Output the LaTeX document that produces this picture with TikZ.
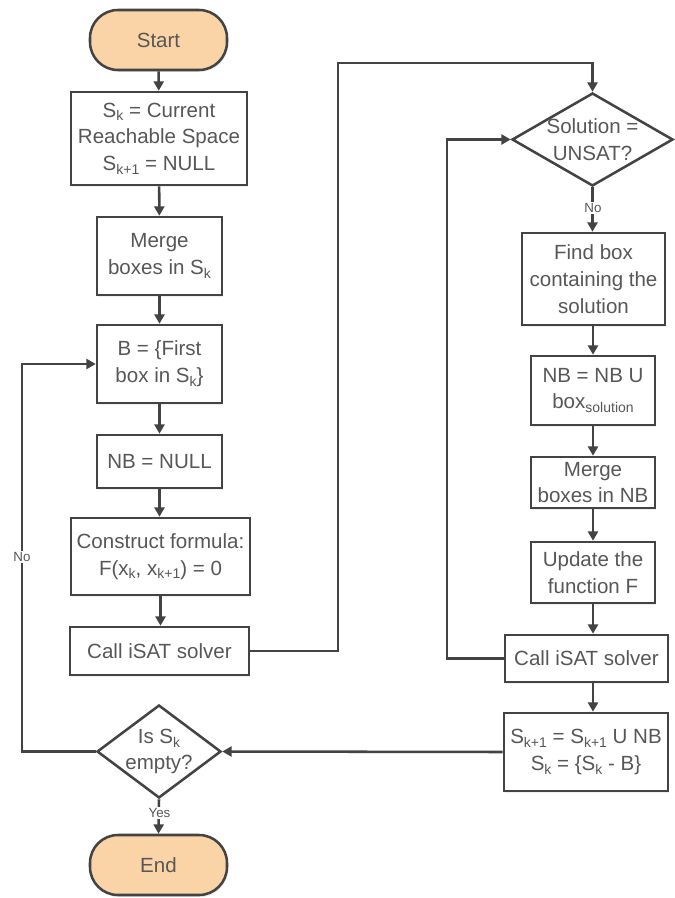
\documentclass[tikz,border=0pt]{standalone}
\usepackage{fontspec}
\setmainfont{Liberation Sans}
\usetikzlibrary{shapes.geometric,arrows.meta,shadows}
\definecolor{linec}{HTML}{434343}
\definecolor{txt}{HTML}{575757}
\definecolor{peach}{HTML}{FAD4A6}
\newcommand\upx{0.75pt}
\newcommand\mainsz{\fontsize{15.4pt}{20pt}\selectfont}
\newcommand\smallsz{\fontsize{10pt}{12pt}\selectfont}
% subscript set a little lower than the default
\newcommand\sbs[1]{\raisebox{-0.35ex}{\fontsize{10.5pt}{12pt}\selectfont #1}}
\tikzset{
  proc/.style={draw=linec, line width=1.9pt, fill=white, text=txt, align=center,
    inner sep=0pt, font=\mainsz,
    drop shadow={opacity=0.12, shadow xshift=1pt, shadow yshift=-1.5pt}},
  term/.style={proc, fill=peach, rounded corners=28*\upx},
  dec/.style={draw=linec, line width=1.9pt, fill=white, diamond, inner sep=0pt},
  dectext/.style={text=txt, align=center, font=\mainsz, inner sep=0pt},
  conn/.style={draw=linec, line width=1.9pt, -{Triangle[length=7pt,width=7.5pt]}},
  lab/.style={fill=white, text=txt, font=\smallsz, inner sep=1pt}
}
\begin{document}
\begin{tikzpicture}[x=0.75pt,y=-0.75pt]
\useasboundingbox[fill=white] (0,0) rectangle (674,898);

% left column
\node[term, minimum width=137*\upx, minimum height=60*\upx] (start) at (158.5,40) {Start};
\node[proc, minimum width=176*\upx, minimum height=93*\upx] (init) at (159,138.5)
  {S\sbs{k} = Current\\Reachable Space\\S\sbs{k+1} = NULL};
\node[proc, minimum width=125*\upx, minimum height=78*\upx] (merge) at (159.5,256)
  {Merge\\boxes in S\sbs{k}};
\node[proc, minimum width=125*\upx, minimum height=78*\upx] (first) at (159.5,364)
  {B = \{First\\box in S\sbs{k}\}};
\node[proc, minimum width=125*\upx, minimum height=53*\upx] (nbnull) at (159.5,461.5)
  {NB = NULL};
\node[proc, minimum width=179*\upx, minimum height=77*\upx] (constr) at (160.5,556.5)
  {Construct formula:\\F(x\sbs{k}, x\sbs{k+1}) = 0};
\node[proc, minimum width=179*\upx, minimum height=48*\upx] (calll) at (159.5,651)
  {Call iSAT solver};
\node[dec, minimum width=124*\upx, minimum height=93*\upx] (empty) at (159,751.5) {};
\node[dectext] (emptytxt) at (159,751.5) {Is S\sbs{k}\\empty?};
\node[term, minimum width=137*\upx, minimum height=60*\upx] (finish) at (158.5,865) {End};

% right column
\node[dec, minimum width=161*\upx, minimum height=93*\upx] (unsat) at (592.5,139.5) {};
\node[dectext] (unsattxt) at (592.5,139.5) {Solution =\\UNSAT?};
\node[proc, minimum width=143*\upx, minimum height=92*\upx] (find) at (593.5,279)
  {Find box\\containing the\\solution};
\node[proc, minimum width=124*\upx, minimum height=69*\upx] (nbu) at (593,390.5)
  {NB = NB U\\box\sbs{solution}};
\node[proc, minimum width=124*\upx, minimum height=51*\upx] (mergenb) at (593,482.5)
  {Merge\\boxes in NB};
\node[proc, minimum width=124*\upx, minimum height=61*\upx] (update) at (593,572.5)
  {Update the\\function F};
\node[proc, minimum width=163*\upx, minimum height=47*\upx] (callr) at (586.5,658.5)
  {Call iSAT solver};
\node[proc, minimum width=164*\upx, minimum height=78*\upx] (supd) at (586,752)
  {S\sbs{k+1} = S\sbs{k+1} U NB\\S\sbs{k} = \{S\sbs{k} - B\}};

% turning points of the loops
\coordinate (topturn) at (338,63);
\coordinate (backturn) at (447,139.5);
\coordinate (noturn) at (22,364);

% connectors, left column
\draw[conn] (start) -- (init);
\draw[conn] (init) -- (merge);
\draw[conn] (merge) -- (first);
\draw[conn] (first) -- (nbnull);
\draw[conn] (nbnull.south) -- (nbnull.south |- constr.north);
\draw[conn] (constr.south) -- (constr.south |- calll.north);
\draw[conn] (calll.east) -| (topturn) -| (unsat.north);
\draw[conn] (empty.west) -| (noturn) -- (first.west);
\node[lab] (nolab) at (22,557) {No};
\draw[conn] (empty.south) -- (finish.north);
\node[lab] (yeslab) at (159.5,813) {Yes};

% connectors, right column
\draw[conn] (unsat.south) -- (unsat.south |- find.north);
\node[lab] (nolab2) at (593,208) {No};
\draw[conn] (find.south -| nbu.north) -- (nbu.north);
\draw[conn] (nbu) -- (mergenb);
\draw[conn] (mergenb) -- (update);
\draw[conn] (update.south) -- (update.south |- callr.north);
\draw[conn] (callr.south -| update.south) -- (update.south |- supd.north);
\draw[conn] (callr.west) -| (backturn) -- (unsat.west);
\draw[conn] (supd.west) -- (empty.east);
\end{tikzpicture}
\end{document}
